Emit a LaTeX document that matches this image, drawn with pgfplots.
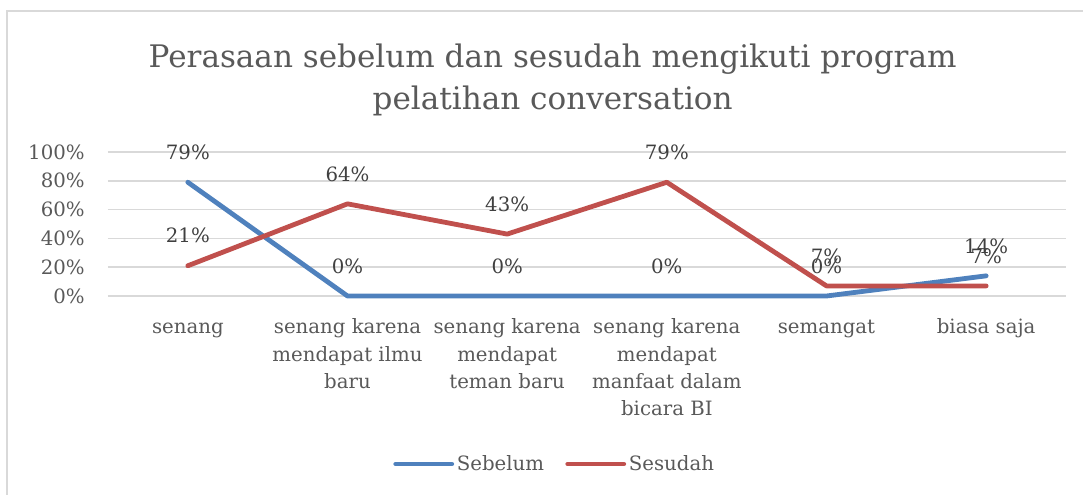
\documentclass[border=0pt]{standalone}
\usepackage{pgfplots}
\pgfplotsset{compat=1.18}
\usepackage{fontspec}
\setmainfont{DejaVu Serif}
\definecolor{ser1}{HTML}{4F81BD}
\definecolor{ser2}{HTML}{C0504D}
\definecolor{txt}{HTML}{595959}
\definecolor{lbl}{HTML}{404040}
\definecolor{grd}{HTML}{D9D9D9}
\begin{document}
\begin{tikzpicture}
\useasboundingbox (0,0) rectangle (812.25pt,-371.25pt);
\draw[grd, line width=1.1pt] (5.25pt,-372pt) -- (5.25pt,-8.25pt) -- (813pt,-8.25pt);
\node[txt, align=center, font=\fontsize{23.3}{32}\selectfont] at (414.5pt,-60pt) {Perasaan sebelum dan sesudah mengikuti program\\pelatihan conversation};
\begin{axis}[
 at={(81pt,-222pt)}, anchor=south west,
 scale only axis, width=718.5pt, height=108pt,
 xmin=-0.5, xmax=5.5, ymin=0, ymax=100,
 ytick={0,20,...,100},
 yticklabel={\pgfmathprintnumber{\tick}\%},
 xtick={0,...,5},
 xticklabels={\strut senang, {\strut senang karena\\mendapat ilmu\\baru}, {\strut senang karena\\mendapat\\teman baru}, {\strut senang karena\\mendapat\\manfaat dalam\\bicara BI}, \strut semangat, \strut biasa saja},
 xticklabel style={align=center, anchor=north, yshift=-10.75pt},
 yticklabel style={anchor=east, xshift=-14pt},
 ymajorgrids, grid style={grd, line width=1.1pt},
 axis line style={draw=none}, major tick length=0pt,
 tick label style={txt, font=\fontsize{14.8}{20.3}\selectfont},
 /pgf/number format/assume math mode=true,
 nodes near coords={\pgfmathprintnumber{\pgfplotspointmeta}\%},
 every node near coord/.style={lbl, font=\fontsize{14.8}{17}\selectfont, anchor=center, yshift=22.5pt},
 legend style={at={(0.4666,-1.1667)}, anchor=center, draw=none, fill=none, legend columns=2,
   font=\fontsize{14.8}{17}\selectfont, text=txt, /tikz/every even column/.append style={column sep=14pt}},
 legend image code/.code={\draw[#1, line cap=round] (0pt,0pt) -- (42pt,0pt);},
 clip=false,
]
\addplot[ser1, line width=3.6pt, line join=round, line cap=round, mark=none] coordinates {(0,79) (1,0) (2,0) (3,0) (4,0) (5,14)};
\addlegendentry{Sebelum}
\addplot[ser2, line width=3.6pt, line join=round, line cap=round, mark=none] coordinates {(0,21) (1,64) (2,43) (3,79) (4,7) (5,7)};
\addlegendentry{Sesudah}
\end{axis}
\end{tikzpicture}
\end{document}
